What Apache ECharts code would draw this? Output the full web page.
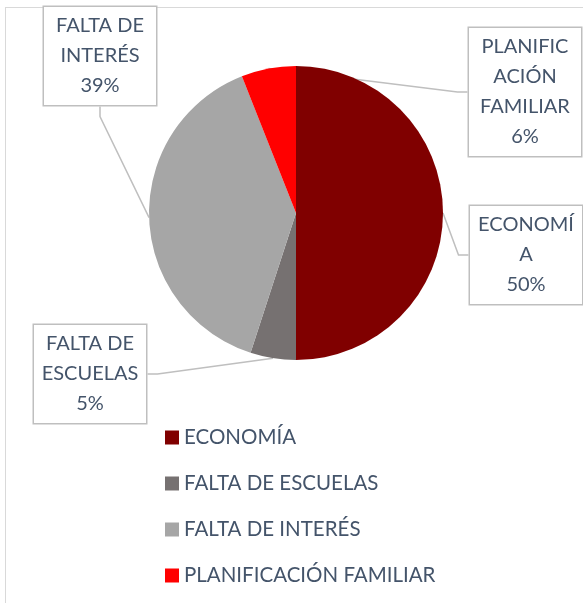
<!DOCTYPE html>
<html>
<head>
<meta charset="utf-8">
<script src="https://cdn.jsdelivr.net/npm/echarts@6/dist/echarts.min.js"></script>
<style>
    html, body { margin: 0; padding: 0; background: #fff; }
    #frame {
        position: absolute; left: 5px; top: 7px;
        width: 620px; height: 620px;
        border: 1px solid #d9d9d9;
    }
    #chart { position: absolute; left: 0; top: 0; width: 583px; height: 603px; }
</style>
</head>
<body>
<div id="frame"></div>
<div id="chart"></div>
<script>
const categories = ["ECONOMÍA", "FALTA DE ESCUELAS", "FALTA DE INTERÉS", "PLANIFICACIÓN FAMILIAR"];
const values = [50, 5, 39, 6];
const labelTexts = ["ECONOMÍ\nA\n50%", "FALTA DE\nESCUELAS\n5%", "FALTA DE\nINTERÉS\n39%", "PLANIFIC\nACIÓN\nFAMILIAR\n6%"];
const colors = ["#800000", "#767171", "#a6a6a6", "#ff0000"];

// label box centres (layout only)
const labelCenters = [[526, 255], [90, 374], [100, 56], [525, 92]];

const TEXT = "#44546a";
const FONT = "Lato";

const chart = echarts.init(document.getElementById("chart"));

chart.setOption({

    animation: false,

    color: colors,

    legend: {
        orient: "vertical",
        left: 160,
        top: 422,
        itemWidth: 14,
        itemHeight: 14,
        itemGap: 25,
        icon: "rect",
        textStyle: {
            color: TEXT,
            fontFamily: FONT,
            fontSize: 20.5
        },
        data: categories
    },

    series: [{
        type: "pie",
        center: [296, 213],
        radius: 147,
        startAngle: 90,
        clockwise: true,
        label: {
            show: true,
            formatter: p => labelTexts[p.dataIndex],
            color: TEXT,
            fontFamily: FONT,
            fontSize: 20,
            lineHeight: 30,
            align: "center",
            width: 102,
            backgroundColor: "#fff",
            borderColor: "#bfbfbf",
            borderWidth: 1.5,
            padding: [4, 5]
        },
        labelLine: {
            show: true,
            length: 10,
            length2: 10,
            lineStyle: { color: "#bfbfbf", width: 1.5 }
        },
        labelLayout: p => ({
            x: labelCenters[p.dataIndex][0],
            y: labelCenters[p.dataIndex][1],
            align: "center",
            verticalAlign: "middle"
        }),
        emphasis: { disabled: true },
        data: categories.map((name, i) => ({ name: name, value: values[i] }))
    }]

});
</script>
</body>
</html>
